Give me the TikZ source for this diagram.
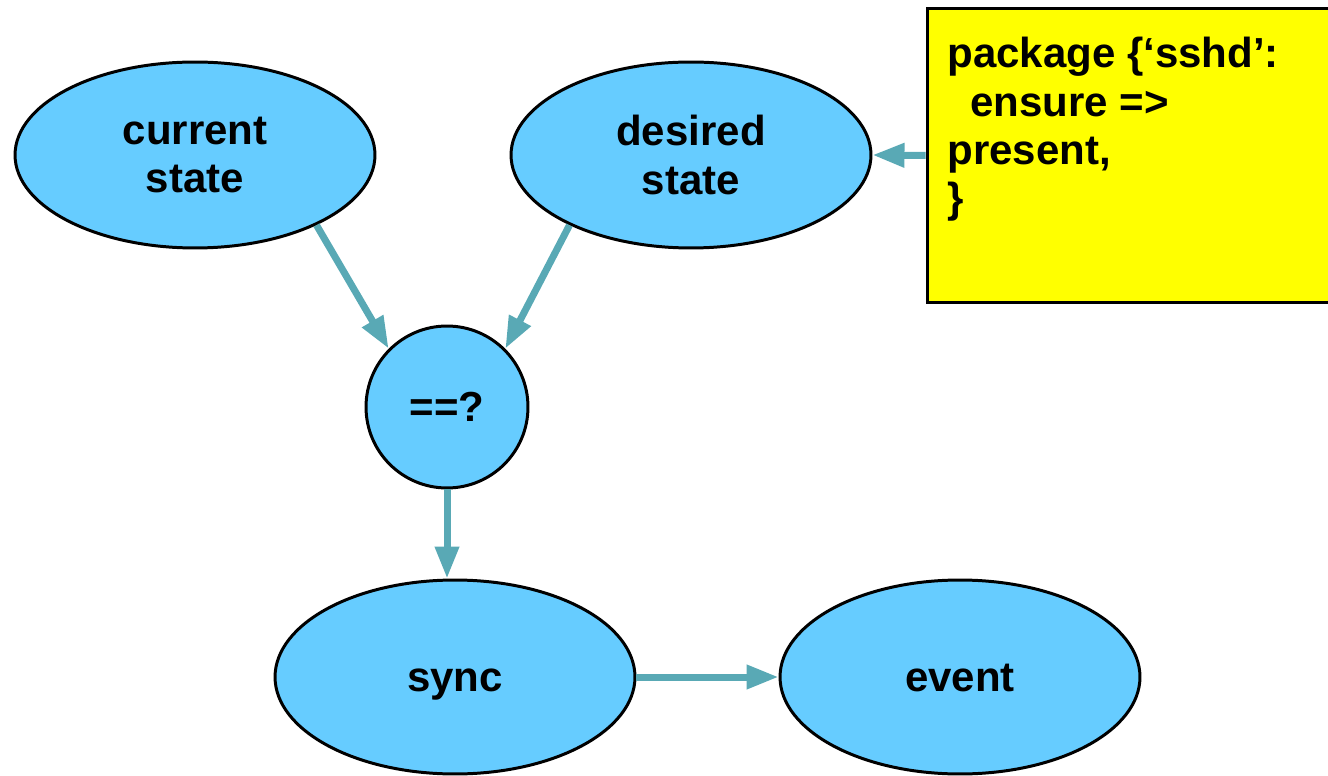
\documentclass[tikz,border=0pt]{standalone}
\usepackage{fontspec}
\setmainfont{Liberation Sans}
\usepackage{tikz}
\usetikzlibrary{arrows.meta, positioning, shapes.geometric, calc}
\definecolor{etatbleu}{RGB}{102,204,255}
\definecolor{flechebleu}{RGB}{89,169,181}
\definecolor{codejaune}{RGB}{255,255,0}

\begin{document}
\begin{tikzpicture}[x=0.02cm, y=-0.02cm,
    every node/.style={font=\bfseries\fontsize{23.9}{27.5}\selectfont},
    etat/.style={ellipse, draw, line width=1.7pt, fill=etatbleu, minimum width=7.2cm, minimum height=3.72cm, align=center},
    fleche/.style={-{Triangle[length=0.64cm,width=0.46cm]}, line width=0.14cm, color=flechebleu}]
    \useasboundingbox (0,0) rectangle (1328,776);

    \node[etat] (current) at (195,155) {current\\state};
    \node[etat] (desired) at (691,155) {desired\\state};
    \node[circle, draw, line width=1.7pt, fill=etatbleu, minimum size=3.24cm] (cmp) at (447,407) {==?};
    \node[etat, minimum height=3.88cm, text height=16.7pt, text depth=0pt] (sync) at (455,677) {sync};
    \node[etat, minimum height=3.88cm, text height=16.7pt, text depth=0pt] (event) at (960,677) {event};

    % manifest box
    \node[rectangle, draw, line width=1.7pt, fill=codejaune, minimum width=8.16cm, minimum height=5.9cm] (box) at (1131,155.5) {};
    \node[anchor=north west, inner sep=0pt, align=left] (code) at (947,37)
        {package \{‘sshd’:\\\hspace*{0.55em}ensure =>\\present,\\\}};

    \draw[fleche] (current.-30) -- (cmp.135);
    \draw[fleche] (desired.-150) -- (cmp.45);
    \draw[fleche] (cmp.south) -- (cmp.south |- sync.north);
    \draw[fleche] (sync.east) -- (event.west);
    \draw[fleche] (box.west) -- (desired.east);
\end{tikzpicture}
\end{document}
